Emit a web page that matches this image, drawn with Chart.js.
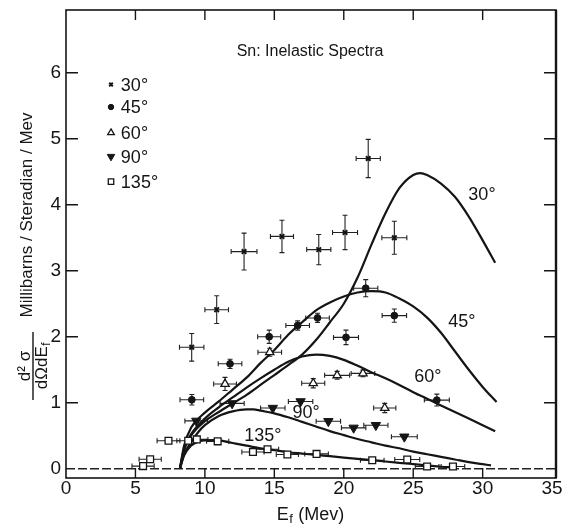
<!DOCTYPE html>
<html><head><meta charset="utf-8">
<script src="https://cdn.jsdelivr.net/npm/chart.js@4.4.1/dist/chart.umd.min.js"></script>
<style>html,body{margin:0;padding:0;background:#fff;}canvas{display:block;}</style>
</head><body>
<canvas id="c" width="567" height="524"></canvas>
<script>
// ---------- Tick labels ----------
const xTicks = [0, 5, 10, 15, 20, 25, 30, 35];
const yTicks = [0, 1, 2, 3, 4, 5, 6];

// ---------- Theoretical curves ----------
const curve30X = [8.2, 8.5, 9, 10, 11, 12, 13, 14, 15, 16, 17, 18, 19, 20, 21, 22, 23, 24, 25, 25.5, 26, 27, 28, 29, 30, 30.9];
const curve30Y = [0, 0.28, 0.5, 0.72, 0.86, 0.99, 1.12, 1.27, 1.42, 1.57, 1.73, 1.95, 2.22, 2.5, 2.9, 3.4, 3.87, 4.25, 4.45, 4.48, 4.45, 4.32, 4.12, 3.82, 3.46, 3.12];
const curve45X = [8.2, 8.5, 9, 10, 11, 12, 13, 14, 15, 16, 17, 18, 19, 20, 21, 22, 23, 24, 25, 26, 27, 28, 29, 30, 31];
const curve45Y = [0, 0.35, 0.62, 0.85, 1.02, 1.2, 1.38, 1.6, 1.8, 2.03, 2.22, 2.4, 2.52, 2.61, 2.67, 2.69, 2.67, 2.58, 2.46, 2.29, 2.06, 1.78, 1.5, 1.24, 1.01];
const curve60X = [8.2, 8.5, 9, 10, 11, 12, 13, 14, 15, 16, 17, 18, 19, 20, 21, 22, 23, 24, 25, 26, 27, 28, 29, 30, 30.9];
const curve60Y = [0, 0.3, 0.52, 0.76, 0.93, 1.08, 1.23, 1.37, 1.5, 1.62, 1.7, 1.73, 1.71, 1.65, 1.56, 1.46, 1.37, 1.27, 1.16, 1.06, 0.96, 0.86, 0.76, 0.66, 0.57];
const curve90X = [8.2, 8.5, 9, 9.5, 10, 11, 12, 13, 13.5, 14, 15, 16, 17, 18, 19, 20, 21, 22, 23, 24, 25, 26, 27, 28, 29, 30, 30.6];
const curve90Y = [0, 0.22, 0.4, 0.55, 0.66, 0.8, 0.87, 0.9, 0.9, 0.88, 0.84, 0.78, 0.71, 0.64, 0.57, 0.51, 0.45, 0.4, 0.35, 0.31, 0.26, 0.22, 0.18, 0.14, 0.1, 0.07, 0.05];
const curve135X = [8.2, 8.5, 9, 9.5, 10, 10.5, 11, 12, 13, 14, 15, 16, 17, 18, 19, 20, 21, 22, 23, 24, 25, 26, 27, 28];
const curve135Y = [0, 0.2, 0.35, 0.41, 0.43, 0.435, 0.43, 0.39, 0.35, 0.31, 0.28, 0.25, 0.23, 0.21, 0.19, 0.17, 0.15, 0.13, 0.11, 0.09, 0.07, 0.05, 0.03, 0.015];

// ---------- Measured points ----------
const pts30X = [9.05, 10.85, 12.82, 15.55, 18.2, 20.09, 21.76, 23.64];
const pts30Y = [1.84, 2.41, 3.29, 3.52, 3.32, 3.58, 4.70, 3.50];
const pts30XErr = [0.88, 0.85, 0.93, 0.83, 0.87, 0.9, 0.87, 0.9];
const pts30YErr = [0.21, 0.21, 0.28, 0.245, 0.23, 0.26, 0.29, 0.25];

const pts45X = [9.06, 11.81, 14.63, 16.68, 18.11, 20.16, 21.58, 23.64, 26.7];
const pts45Y = [1.045, 1.59, 2.0, 2.17, 2.285, 1.99, 2.735, 2.32, 1.04];
const pts45XErr = [0.85, 0.85, 0.83, 0.85, 0.85, 0.9, 0.87, 0.88, 0.9];
const pts45YErr = [0.08, 0.07, 0.1, 0.07, 0.07, 0.11, 0.13, 0.1, 0.09];

const pts60X = [11.45, 14.67, 17.8, 19.52, 21.38, 22.95];
const pts60Y = [1.285, 1.765, 1.295, 1.415, 1.445, 0.92];
const pts60XErr = [0.82, 0.85, 0.83, 0.9, 0.85, 0.8];
const pts60YErr = [0.1, 0.06, 0.07, 0.06, 0.05, 0.07];

const pts90X = [9.38, 11.96, 14.89, 16.89, 18.89, 20.71, 22.31, 24.36];
const pts90Y = [0.725, 0.99, 0.92, 1.02, 0.72, 0.62, 0.66, 0.485];
const pts90XErr = [0.82, 0.87, 0.88, 0.88, 0.88, 0.88, 0.87, 0.93];
const pts90YErr = [0, 0, 0, 0, 0, 0, 0, 0];

const pts135X = [5.55, 6.06, 7.38, 8.8, 9.42, 10.92, 13.46, 14.51, 15.94, 18.04, 22.05, 24.57, 26.0, 27.86];
const pts135Y = [0.04, 0.145, 0.425, 0.425, 0.445, 0.415, 0.255, 0.295, 0.215, 0.225, 0.13, 0.14, 0.035, 0.035];
const pts135XErr = [0.8, 0.8, 0.82, 0.82, 0.8, 0.8, 0.8, 0.8, 0.8, 0.85, 0.85, 0.9, 0.85, 0.85];
const pts135YErr = [0, 0, 0, 0, 0, 0, 0, 0, 0, 0, 0, 0, 0, 0];

// ---------- Texts ----------
const seriesNames = ['30°', '45°', '60°', '90°', '135°'];
const titleText = 'Sn: Inelastic Spectra';
const yTitleText = 'Millibarns / Steradian / Mev';
// annotation anchors (data coords)
const curveLabelX = [29.95, 28.5, 26.06, 17.28, 14.18];
const curveLabelY = [4.15, 2.23, 1.39, 0.85, 0.5];
const legendMarkerX = 3.24, legendTextX = 3.95;
const legendRowY = [5.82, 5.48, 5.09, 4.73, 4.35];
const titleX = 17.57, titleY = 6.32;

const INK = '#151515';
const FONT = '"Liberation Sans", Arial, sans-serif';

function zip(xs, ys) { return xs.map((x, i) => ({ x: x, y: ys[i] })); }

const markerStyles = [
  { pointStyle: 'crossRot', radius: 3.2, borderWidth: 2, rotation: 0, fill: INK },
  { pointStyle: 'circle', radius: 3.4, borderWidth: 1, rotation: 0, fill: INK },
  { pointStyle: 'triangle', radius: 4.8, borderWidth: 1.3, rotation: 0, fill: '#ffffff' },
  { pointStyle: 'triangle', radius: 5.4, borderWidth: 1, rotation: 180, fill: INK },
  { pointStyle: 'rect', radius: 4.8, borderWidth: 1.3, rotation: 0, fill: '#ffffff' }
];

const series = [
  { x: pts30X, y: pts30Y, xe: pts30XErr, ye: pts30YErr },
  { x: pts45X, y: pts45Y, xe: pts45XErr, ye: pts45YErr },
  { x: pts60X, y: pts60Y, xe: pts60XErr, ye: pts60YErr },
  { x: pts90X, y: pts90Y, xe: pts90XErr, ye: pts90YErr },
  { x: pts135X, y: pts135Y, xe: pts135XErr, ye: pts135YErr }
];
const curves = [
  [curve30X, curve30Y], [curve45X, curve45Y], [curve60X, curve60Y], [curve90X, curve90Y], [curve135X, curve135Y]
];

const datasets = [];
curves.forEach((c, i) => {
  datasets.push({
    label: 'curve ' + seriesNames[i],
    data: zip(c[0], c[1]),
    showLine: true,
    borderColor: INK,
    borderWidth: 2.2,
    pointRadius: 0,
    cubicInterpolationMode: 'monotone',
    fill: false,
    order: 2
  });
});
series.forEach((s, i) => {
  const m = markerStyles[i];
  datasets.push({
    label: seriesNames[i],
    data: zip(s.x, s.y),
    showLine: false,
    pointStyle: m.pointStyle,
    pointRadius: m.radius,
    pointRotation: m.rotation,
    pointBorderWidth: m.borderWidth,
    pointBorderColor: INK,
    pointBackgroundColor: m.fill,
    order: 1
  });
});

const customPlugin = {
  id: 'custom',
  beforeDatasetsDraw(chart) {
    const ctx = chart.ctx, xs = chart.scales.x, ys = chart.scales.y, a = chart.chartArea;
    ctx.save();
    // dashed zero line
    ctx.strokeStyle = '#222';
    ctx.lineWidth = 1.3;
    ctx.setLineDash([9, 3]);
    ctx.beginPath();
    ctx.moveTo(a.left, ys.getPixelForValue(0));
    ctx.lineTo(a.right, ys.getPixelForValue(0));
    ctx.stroke();
    ctx.setLineDash([]);
    // error bars
    ctx.strokeStyle = '#222';
    ctx.lineWidth = 1.1;
    const cap = 2.5;
    series.forEach(s => {
      s.x.forEach((xv, i) => {
        const px = xs.getPixelForValue(xv), py = ys.getPixelForValue(s.y[i]);
        const x1 = xs.getPixelForValue(xv - s.xe[i]), x2 = xs.getPixelForValue(xv + s.xe[i]);
        ctx.beginPath();
        ctx.moveTo(x1, py); ctx.lineTo(x2, py);
        ctx.moveTo(x1, py - cap); ctx.lineTo(x1, py + cap);
        ctx.moveTo(x2, py - cap); ctx.lineTo(x2, py + cap);
        if (s.ye[i] > 0) {
          const y1 = ys.getPixelForValue(s.y[i] + s.ye[i]), y2 = ys.getPixelForValue(s.y[i] - s.ye[i]);
          ctx.moveTo(px, y1); ctx.lineTo(px, y2);
          ctx.moveTo(px - cap, y1); ctx.lineTo(px + cap, y1);
          ctx.moveTo(px - cap, y2); ctx.lineTo(px + cap, y2);
        }
        ctx.stroke();
      });
    });
    ctx.restore();
  },
  afterDatasetsDraw(chart) {
    const ctx = chart.ctx, xs = chart.scales.x, ys = chart.scales.y, a = chart.chartArea;
    ctx.save();
    ctx.strokeStyle = INK;
    ctx.fillStyle = INK;
    // frame
    ctx.lineWidth = 1.6;
    ctx.strokeRect(a.left, a.top, a.right - a.left, a.bottom - a.top);
    ctx.lineWidth = 2.4;
    ctx.beginPath(); ctx.moveTo(a.right, a.top); ctx.lineTo(a.right, a.bottom); ctx.stroke();
    // inward ticks
    ctx.lineWidth = 1.4;
    ctx.beginPath();
    xTicks.forEach(v => {
      if (v <= 0 || v >= 35) return;
      const px = xs.getPixelForValue(v);
      ctx.moveTo(px, a.bottom); ctx.lineTo(px, a.bottom - 10);
      ctx.moveTo(px, a.top); ctx.lineTo(px, a.top + 10);
    });
    yTicks.forEach(v => {
      if (v <= 0) return;
      const py = ys.getPixelForValue(v);
      ctx.moveTo(a.left, py); ctx.lineTo(a.left + 12, py);
      ctx.moveTo(a.right, py); ctx.lineTo(a.right - 12, py);
    });
    ctx.stroke();
    // tick labels
    ctx.font = '19px ' + FONT;
    ctx.textAlign = 'center';
    ctx.textBaseline = 'middle';
    xTicks.forEach(v => ctx.fillText(String(v), xs.getPixelForValue(v), a.bottom + 11));
    ctx.textAlign = 'right';
    yTicks.forEach(v => ctx.fillText(String(v), a.left - 5, ys.getPixelForValue(v)));
    // title
    ctx.font = '16px ' + FONT;
    ctx.textAlign = 'center';
    ctx.fillText(titleText, xs.getPixelForValue(titleX), ys.getPixelForValue(titleY));
    // curve labels
    ctx.font = '18px ' + FONT;
    seriesNames.forEach((n, i) => ctx.fillText(n, xs.getPixelForValue(curveLabelX[i]), ys.getPixelForValue(curveLabelY[i])));
    // legend
    ctx.textAlign = 'left';
    ctx.font = '18px ' + FONT;
    seriesNames.forEach((n, i) => {
      const m = markerStyles[i];
      const mx = xs.getPixelForValue(legendMarkerX), my = ys.getPixelForValue(legendRowY[i]);
      ctx.save();
      ctx.fillStyle = m.fill; ctx.strokeStyle = INK; ctx.lineWidth = m.borderWidth;
      Chart.helpers.drawPoint(ctx, { pointStyle: m.pointStyle, radius: m.radius * 0.8, rotation: m.rotation, borderWidth: m.borderWidth }, mx, my);
      ctx.restore();
      ctx.fillText(n, xs.getPixelForValue(legendTextX), my + 1);
    });
    // x title: E_f (Mev)
    ctx.font = '18px ' + FONT;
    ctx.textBaseline = 'alphabetic';
    const wE = ctx.measureText('E').width;
    ctx.font = '13px ' + FONT;
    const wf = ctx.measureText('f').width;
    ctx.font = '18px ' + FONT;
    const wR = ctx.measureText(' (Mev)').width;
    const total = wE + wf + wR;
    const cx = (a.left + a.right) / 2 - 1;
    let sx = cx - total / 2;
    const base = 520;
    ctx.textAlign = 'left';
    ctx.fillText('E', sx, base);
    ctx.font = '13px ' + FONT;
    ctx.fillText('f', sx + wE + 0.5, base + 3);
    ctx.font = '18px ' + FONT;
    ctx.fillText(' (Mev)', sx + wE + wf + 1, base);
    // y title (rotated)
    ctx.save();
    ctx.translate(27, 215);
    ctx.rotate(-Math.PI / 2);
    ctx.font = '17px ' + FONT;
    ctx.textAlign = 'center';
    ctx.textBaseline = 'middle';
    ctx.fillText(yTitleText, 0, 0);
    ctx.restore();
    // fraction d²σ / dΩdE_f
    ctx.save();
    ctx.translate(33, 366);
    ctx.rotate(-Math.PI / 2);
    ctx.lineWidth = 1.4;
    ctx.beginPath(); ctx.moveTo(-34, 0); ctx.lineTo(34, 0); ctx.stroke();
    ctx.font = '17px ' + FONT;
    ctx.textAlign = 'center';
    ctx.textBaseline = 'alphabetic';
    ctx.fillText('d² σ', 0, -3);
    const wd = ctx.measureText('dΩdE').width;
    ctx.font = '12px ' + FONT;
    const wsf = ctx.measureText('f').width;
    ctx.font = '17px ' + FONT;
    ctx.textAlign = 'left';
    const dx = -(wd + wsf) / 2;
    ctx.fillText('dΩdE', dx, 14);
    ctx.font = '12px ' + FONT;
    ctx.fillText('f', dx + wd + 0.5, 17);
    ctx.restore();
    ctx.restore();
  }
};

new Chart(document.getElementById('c').getContext('2d'), {
  type: 'scatter',
  data: { datasets: datasets },
  options: {
    responsive: false,
    animation: false,
    devicePixelRatio: 1,
    layout: { padding: { left: 66, right: 11, top: 10, bottom: 46 } },
    plugins: { legend: { display: false }, tooltip: { enabled: false }, title: { display: false } },
    scales: {
      x: { type: 'linear', min: 0, max: 35.28, display: false },
      y: { type: 'linear', min: -0.14, max: 6.95, display: false }
    }
  },
  plugins: [customPlugin]
});
</script>
</body></html>
